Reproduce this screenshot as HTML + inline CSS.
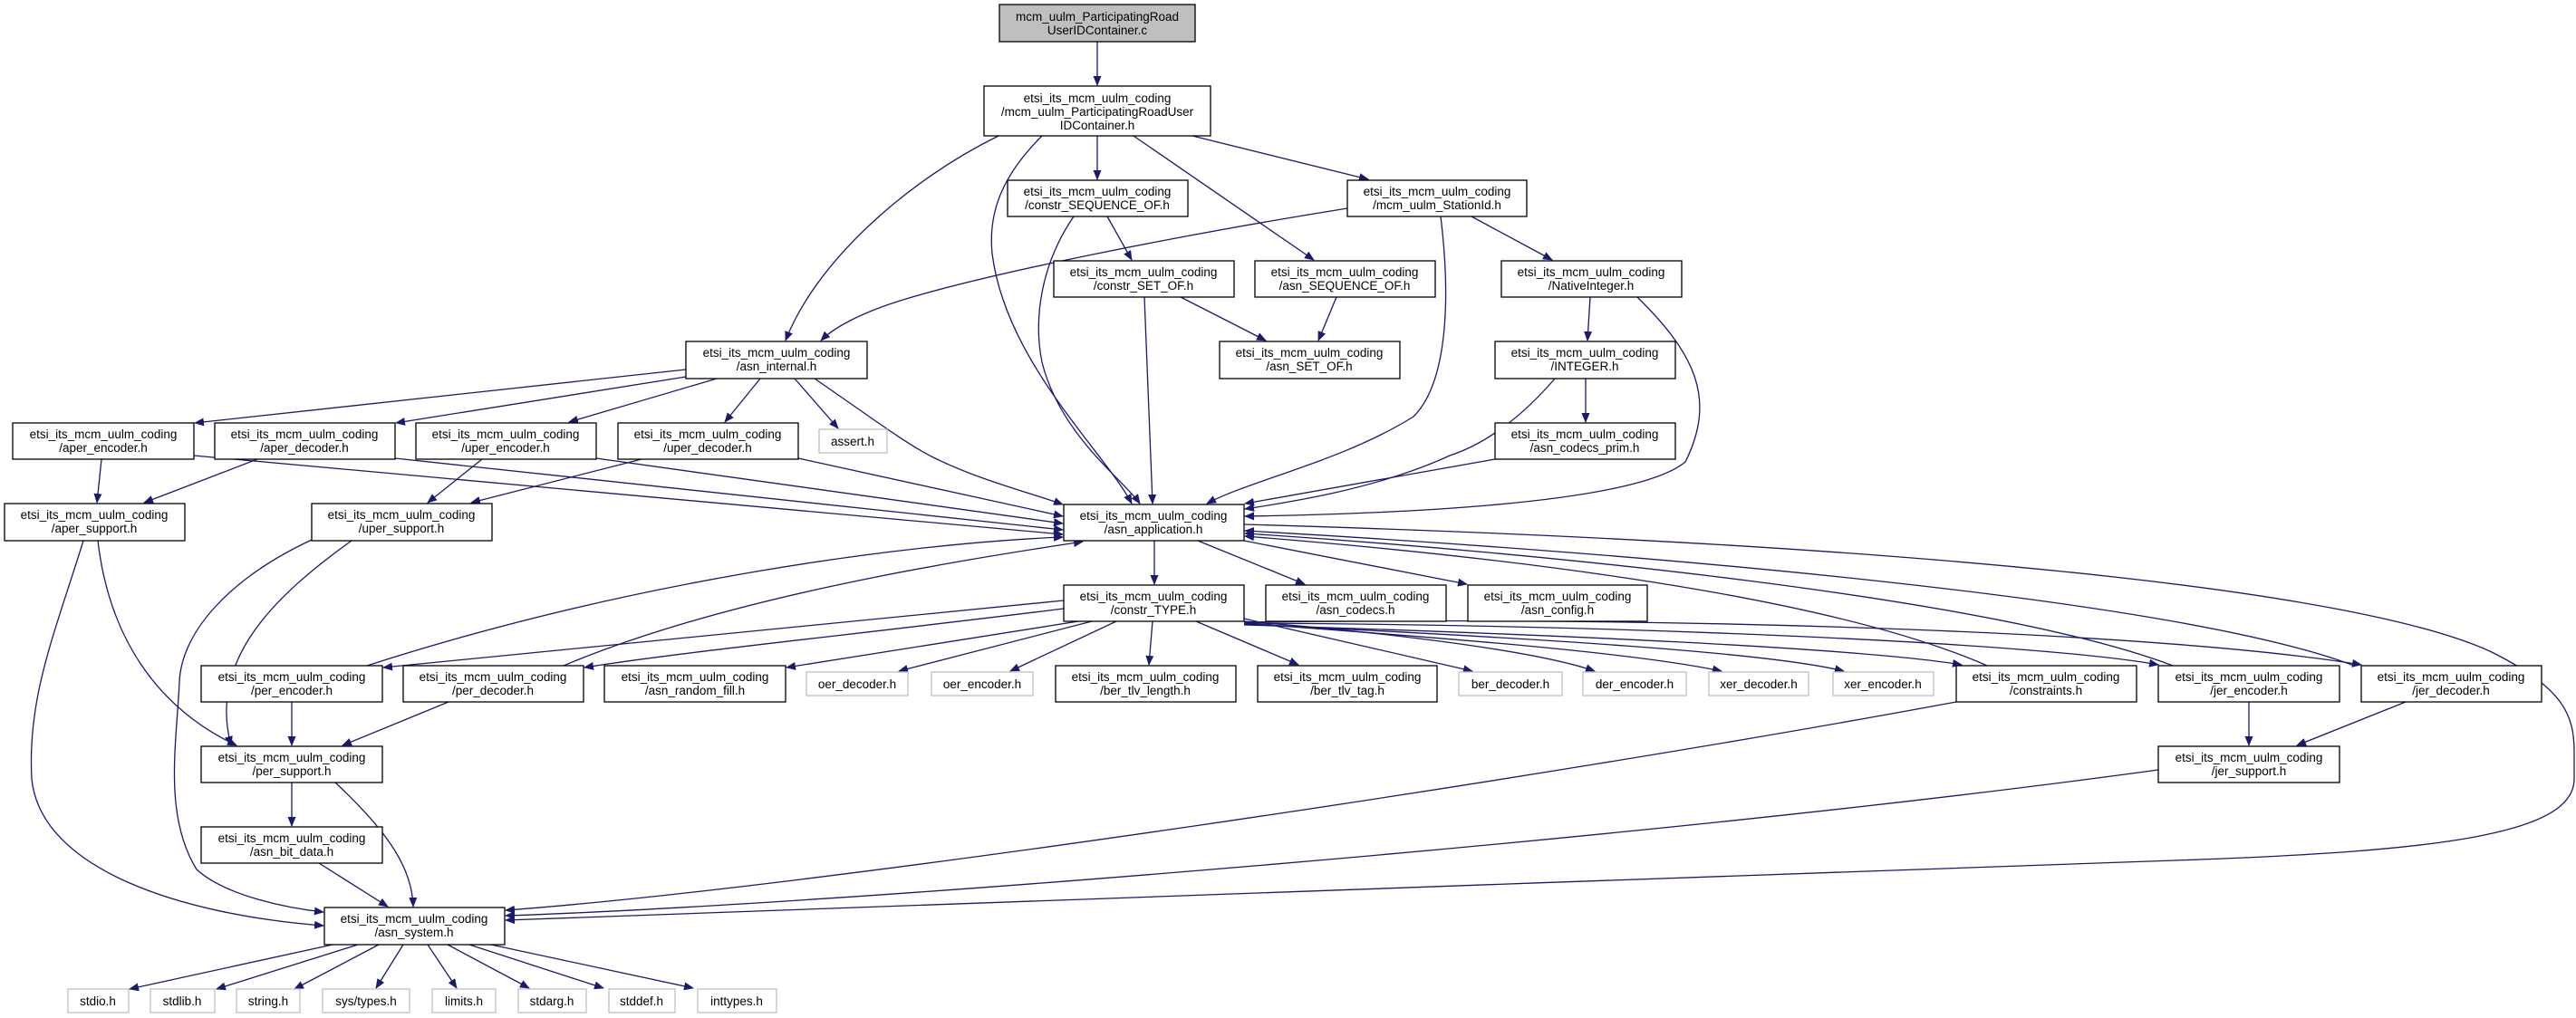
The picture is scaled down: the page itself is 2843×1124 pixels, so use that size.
<!DOCTYPE html>
<html><head><meta charset="utf-8"><style>
html,body{margin:0;padding:0;background:#fff;}
svg{display:block;}
text{font-family:"Liberation Sans","DejaVu Sans",sans-serif;font-size:13.5px;fill:#000;text-anchor:middle;}
.b{fill:#fff;stroke:#000;stroke-width:1.3;}
.g{fill:#fff;stroke:#bfbfbf;stroke-width:1.3;}
.e{fill:none;stroke:#191970;stroke-width:1.3;marker-end:url(#a);}
</style></head><body>
<svg width="2843" height="1124" viewBox="0 0 2843 1124" xmlns="http://www.w3.org/2000/svg">
<defs><marker id="a" markerWidth="11" markerHeight="9" refX="10" refY="4.5" orient="auto" markerUnits="userSpaceOnUse"><path d="M0,0 L11,4.5 L0,9 z" fill="#191970"/></marker></defs>

<!-- edges -->
<path class="e" d="M1211,46 L1211,94"/>
<path class="e" d="M1102,150 C1000,200 900,290 867,376"/>
<path class="e" d="M1150,150 C1110,190 1090,230 1095,280 C1110,400 1220,500 1249,556"/>
<path class="e" d="M1211,150 L1211,198"/>
<path class="e" d="M1251,150 L1450,287"/>
<path class="e" d="M1316,150 L1510,198"/>
<path class="e" d="M1222,239 L1249,287"/>
<path class="e" d="M1185,239 C1150,290 1140,350 1150,400 C1170,480 1240,530 1258,556"/>
<path class="e" d="M1487,230 C1300,260 1100,300 1000,330 C950,345 920,362 906,376"/>
<path class="e" d="M1590,239 C1600,320 1600,420 1560,460 C1480,510 1380,530 1332,556"/>
<path class="e" d="M1624,239 L1713,287"/>
<path class="e" d="M1303,328 L1397,376"/>
<path class="e" d="M1263,328 L1272,556"/>
<path class="e" d="M1475,328 L1455,376"/>
<path class="e" d="M1755,328 L1752,376"/>
<path class="e" d="M1807,328 C1870,390 1895,440 1860,510 C1800,560 1500,568 1374,570"/>
<path class="e" d="M1750,418 L1750,466"/>
<path class="e" d="M1716,418 C1680,460 1640,490 1600,503 C1520,540 1420,555 1374,562"/>
<path class="e" d="M1650,507 L1374,556"/>
<path class="e" d="M757,408 L215,467"/>
<path class="e" d="M757,416 L437,467"/>
<path class="e" d="M791,418 L628,466"/>
<path class="e" d="M839,418 L800,466"/>
<path class="e" d="M877,418 L925,473"/>
<path class="e" d="M899,418 C960,460 1000,490 1030,505 C1080,530 1140,545 1173,557"/>
<path class="e" d="M214,503 L1173,590"/>
<path class="e" d="M436,506 L1173,585"/>
<path class="e" d="M658,506 L1173,578"/>
<path class="e" d="M881,506 L1173,570"/>
<path class="e" d="M112,507 L107,555"/>
<path class="e" d="M284,507 L159,555"/>
<path class="e" d="M532,507 L472,555"/>
<path class="e" d="M708,507 L520,555"/>
<path class="e" d="M108,597 C120,700 170,780 261,823"/>
<path class="e" d="M92,597 C60,700 30,770 35,860 C45,960 200,1010 357,1022"/>
<path class="e" d="M388,597 C300,660 230,730 255,823"/>
<path class="e" d="M344,596 C250,640 200,700 198,753 C195,820 180,900 217,960 C250,990 320,1003 357,1007"/>
<path class="e" d="M322,775 L322,823"/>
<path class="e" d="M495,775 L378,823"/>
<path class="e" d="M322,864 L322,912"/>
<path class="e" d="M370,864 C430,920 455,960 456,1001"/>
<path class="e" d="M352,953 L428,1001"/>
<path class="e" d="M367,1043 L143,1092"/>
<path class="e" d="M395,1043 L239,1092"/>
<path class="e" d="M418,1043 L325,1092"/>
<path class="e" d="M445,1043 L415,1091"/>
<path class="e" d="M472,1043 L504,1091"/>
<path class="e" d="M494,1043 L584,1091"/>
<path class="e" d="M518,1043 L666,1091"/>
<path class="e" d="M542,1043 L765,1091"/>
<path class="e" d="M1274,597 L1274,645"/>
<path class="e" d="M1322,597 L1440,645"/>
<path class="e" d="M1373,597 L1619,645"/>
<path class="e" d="M405,735 C700,640 1000,600 1173,593"/>
<path class="e" d="M622,735 C800,660 1050,620 1195,598"/>
<path class="e" d="M2193,735 C2000,650 1600,610 1374,592"/>
<path class="e" d="M2398,735 C2200,660 1700,610 1374,589"/>
<path class="e" d="M2598,735 C2400,660 1800,610 1374,586"/>
<path class="e" d="M1373,579 C2100,600 2600,650 2750,720 C2830,760 2841,790 2841,830 L2841,860 C2841,920 2700,940 2400,950 C1800,970 900,1005 558,1016"/>
<path class="e" d="M2159,775 C1700,860 900,980 558,1005"/>
<path class="e" d="M2482,775 L2482,823"/>
<path class="e" d="M2655,775 L2535,823"/>
<path class="e" d="M2382,850 C1800,930 900,1000 558,1011"/>
<path class="e" d="M1174,663 C900,690 600,720 423,737"/>
<path class="e" d="M1174,672 C950,700 750,720 645,737"/>
<path class="e" d="M1190,686 L868,737"/>
<path class="e" d="M1205,686 L992,741"/>
<path class="e" d="M1232,686 L1115,741"/>
<path class="e" d="M1272,686 L1268,734"/>
<path class="e" d="M1320,686 L1433,734"/>
<path class="e" d="M1373,683 L1625,741"/>
<path class="e" d="M1373,686 C1550,700 1700,720 1760,741"/>
<path class="e" d="M1373,688 C1600,705 1800,720 1900,741"/>
<path class="e" d="M1373,689 C1700,705 1950,720 2035,741"/>
<path class="e" d="M1373,690 C1700,700 2050,715 2165,734"/>
<path class="e" d="M1373,688 C1800,690 2250,710 2382,734"/>
<path class="e" d="M1373,687 C1900,680 2400,700 2606,734"/>

<!-- nodes -->
<rect x="1103" y="5" width="216" height="41" fill="#bfbfbf" stroke="#000" stroke-width="1.3"/>
<text x="1211" y="23">mcm_uulm_ParticipatingRoad</text><text x="1211" y="38">UserIDContainer.c</text>

<rect class="b" x="1086" y="95" width="250" height="55"/>
<text x="1211" y="113">etsi_its_mcm_uulm_coding</text><text x="1211" y="128">/mcm_uulm_ParticipatingRoadUser</text><text x="1211" y="143">IDContainer.h</text>

<g id="n">
<rect class="b" x="1112" y="199" width="199" height="40"/><text x="1211" y="216">etsi_its_mcm_uulm_coding</text><text x="1211" y="231">/constr_SEQUENCE_OF.h</text>
<rect class="b" x="1487" y="199" width="198" height="40"/><text x="1586" y="216">etsi_its_mcm_uulm_coding</text><text x="1586" y="231">/mcm_uulm_StationId.h</text>
<rect class="b" x="1163" y="288" width="199" height="40"/><text x="1262" y="305">etsi_its_mcm_uulm_coding</text><text x="1262" y="320">/constr_SET_OF.h</text>
<rect class="b" x="1385" y="288" width="199" height="40"/><text x="1484" y="305">etsi_its_mcm_uulm_coding</text><text x="1484" y="320">/asn_SEQUENCE_OF.h</text>
<rect class="b" x="1657" y="288" width="199" height="40"/><text x="1756" y="305">etsi_its_mcm_uulm_coding</text><text x="1756" y="320">/NativeInteger.h</text>
<rect class="b" x="1346" y="377" width="199" height="41"/><text x="1445" y="394">etsi_its_mcm_uulm_coding</text><text x="1445" y="409">/asn_SET_OF.h</text>
<rect class="b" x="1650" y="377" width="199" height="41"/><text x="1749" y="394">etsi_its_mcm_uulm_coding</text><text x="1749" y="409">/INTEGER.h</text>
<rect class="b" x="1650" y="467" width="199" height="40"/><text x="1749" y="484">etsi_its_mcm_uulm_coding</text><text x="1749" y="499">/asn_codecs_prim.h</text>
<rect class="b" x="1174" y="557" width="199" height="40"/><text x="1273" y="574">etsi_its_mcm_uulm_coding</text><text x="1273" y="589">/asn_application.h</text>
<rect class="b" x="1174" y="646" width="199" height="40"/><text x="1273" y="663">etsi_its_mcm_uulm_coding</text><text x="1273" y="678">/constr_TYPE.h</text>
<rect class="b" x="1397" y="646" width="199" height="40"/><text x="1496" y="663">etsi_its_mcm_uulm_coding</text><text x="1496" y="678">/asn_codecs.h</text>
<rect class="b" x="1620" y="646" width="198" height="40"/><text x="1719" y="663">etsi_its_mcm_uulm_coding</text><text x="1719" y="678">/asn_config.h</text>
<rect class="b" x="1165" y="735" width="199" height="40"/><text x="1264" y="752">etsi_its_mcm_uulm_coding</text><text x="1264" y="767">/ber_tlv_length.h</text>
<rect class="b" x="1388" y="735" width="198" height="40"/><text x="1487" y="752">etsi_its_mcm_uulm_coding</text><text x="1487" y="767">/ber_tlv_tag.h</text>
<rect class="b" x="2159" y="735" width="199" height="40"/><text x="2258" y="752">etsi_its_mcm_uulm_coding</text><text x="2258" y="767">/constraints.h</text>
<rect class="b" x="2382" y="735" width="200" height="40"/><text x="2482" y="752">etsi_its_mcm_uulm_coding</text><text x="2482" y="767">/jer_encoder.h</text>
<rect class="b" x="2606" y="735" width="199" height="40"/><text x="2705" y="752">etsi_its_mcm_uulm_coding</text><text x="2705" y="767">/jer_decoder.h</text>
<rect class="b" x="2382" y="824" width="200" height="40"/><text x="2482" y="841">etsi_its_mcm_uulm_coding</text><text x="2482" y="856">/jer_support.h</text>
<rect class="b" x="757" y="377" width="200" height="41"/><text x="857" y="394">etsi_its_mcm_uulm_coding</text><text x="857" y="409">/asn_internal.h</text>
<rect class="b" x="14" y="467" width="200" height="40"/><text x="114" y="484">etsi_its_mcm_uulm_coding</text><text x="114" y="499">/aper_encoder.h</text>
<rect class="b" x="237" y="467" width="199" height="40"/><text x="336" y="484">etsi_its_mcm_uulm_coding</text><text x="336" y="499">/aper_decoder.h</text>
<rect class="b" x="459" y="467" width="199" height="40"/><text x="558" y="484">etsi_its_mcm_uulm_coding</text><text x="558" y="499">/uper_encoder.h</text>
<rect class="b" x="682" y="467" width="199" height="40"/><text x="781" y="484">etsi_its_mcm_uulm_coding</text><text x="781" y="499">/uper_decoder.h</text>
<rect class="b" x="5" y="556" width="199" height="41"/><text x="104" y="573">etsi_its_mcm_uulm_coding</text><text x="104" y="588">/aper_support.h</text>
<rect class="b" x="344" y="556" width="199" height="41"/><text x="443" y="573">etsi_its_mcm_uulm_coding</text><text x="443" y="588">/uper_support.h</text>
<rect class="b" x="222" y="735" width="200" height="40"/><text x="322" y="752">etsi_its_mcm_uulm_coding</text><text x="322" y="767">/per_encoder.h</text>
<rect class="b" x="445" y="735" width="199" height="40"/><text x="544" y="752">etsi_its_mcm_uulm_coding</text><text x="544" y="767">/per_decoder.h</text>
<rect class="b" x="667" y="735" width="200" height="40"/><text x="767" y="752">etsi_its_mcm_uulm_coding</text><text x="767" y="767">/asn_random_fill.h</text>
<rect class="b" x="222" y="824" width="200" height="40"/><text x="322" y="841">etsi_its_mcm_uulm_coding</text><text x="322" y="856">/per_support.h</text>
<rect class="b" x="222" y="913" width="200" height="40"/><text x="322" y="930">etsi_its_mcm_uulm_coding</text><text x="322" y="945">/asn_bit_data.h</text>
<rect class="b" x="358" y="1002" width="199" height="41"/><text x="457" y="1019">etsi_its_mcm_uulm_coding</text><text x="457" y="1034">/asn_system.h</text>
</g>

<rect class="g" x="904" y="474" width="75" height="26"/><text x="941" y="492">assert.h</text>
<rect class="g" x="890" y="742" width="112" height="26"/><text x="946" y="760">oer_decoder.h</text>
<rect class="g" x="1028" y="742" width="112" height="26"/><text x="1084" y="760">oer_encoder.h</text>
<rect class="g" x="1610" y="742" width="114" height="26"/><text x="1667" y="760">ber_decoder.h</text>
<rect class="g" x="1747" y="742" width="114" height="26"/><text x="1804" y="760">der_encoder.h</text>
<rect class="g" x="1886" y="742" width="110" height="26"/><text x="1941" y="760">xer_decoder.h</text>
<rect class="g" x="2023" y="742" width="111" height="26"/><text x="2078" y="760">xer_encoder.h</text>
<rect class="g" x="75" y="1092" width="67" height="26"/><text x="108" y="1110">stdio.h</text>
<rect class="g" x="166" y="1092" width="71" height="26"/><text x="201" y="1110">stdlib.h</text>
<rect class="g" x="261" y="1092" width="70" height="26"/><text x="296" y="1110">string.h</text>
<rect class="g" x="356" y="1092" width="96" height="26"/><text x="404" y="1110">sys/types.h</text>
<rect class="g" x="477" y="1092" width="70" height="26"/><text x="512" y="1110">limits.h</text>
<rect class="g" x="572" y="1092" width="75" height="26"/><text x="609" y="1110">stdarg.h</text>
<rect class="g" x="672" y="1092" width="73" height="26"/><text x="708" y="1110">stddef.h</text>
<rect class="g" x="770" y="1092" width="87" height="26"/><text x="813" y="1110">inttypes.h</text>
</svg>
</body></html>
